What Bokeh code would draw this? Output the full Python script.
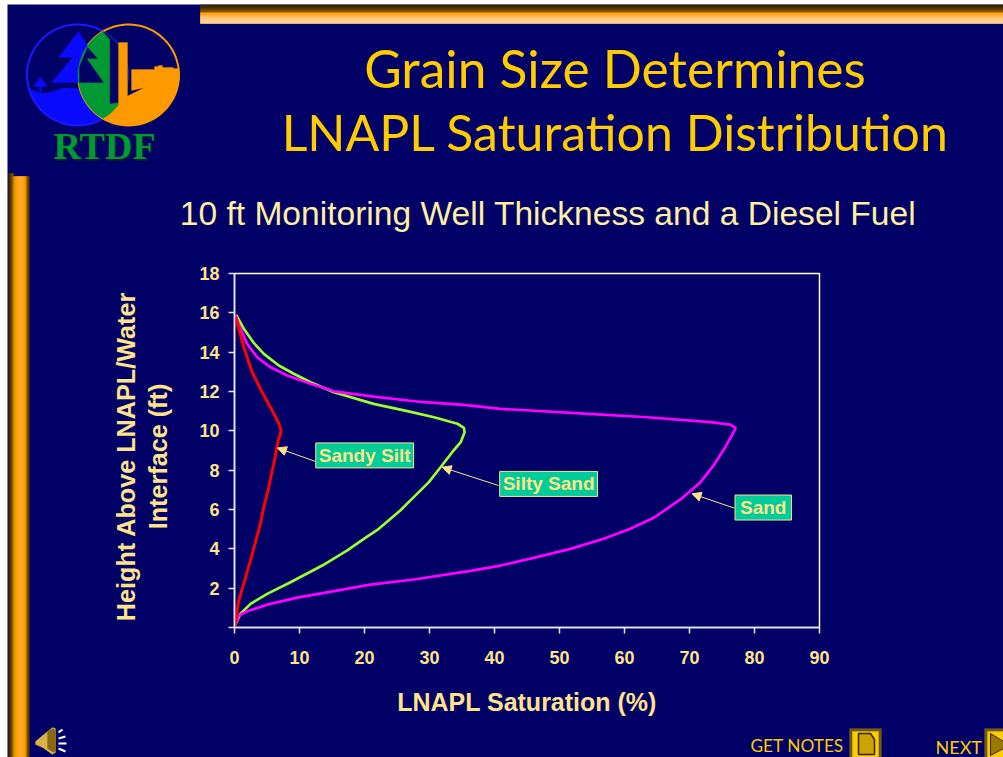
import math
import numpy as np
from bokeh.plotting import figure
from bokeh.embed import file_html
from bokeh.resources import INLINE
from bokeh.layouts import column
from bokeh.core.properties import value
from bokeh.models import (Label, Arrow, NormalHead, Range1d, FixedTicker)

# ---- data ----
title_lines = ["Grain Size Determines", "LNAPL Saturation Distribution"]
subtitle = "10 ft Monitoring Well Thickness and a Diesel Fuel"
x_title = "LNAPL Saturation (%)"
y_title_lines = ["Height Above LNAPL/Water", "Interface (ft)"]
x_ticks = [0, 10, 20, 30, 40, 50, 60, 70, 80, 90]
y_ticks = [0, 2, 4, 6, 8, 10, 12, 14, 16, 18]

silty_x = [0.05, 0.92, 2.46, 5.03, 8.62, 13.5, 17.3, 19.9, 22.2, 25.5, 27.3, 29.9, 31.7, 33.7, 34.8, 35.4, 35.3, 34.3, 30.7, 26.6, 21.4, 15.3, 11.7, 9.12, 6.82, 4.51, 2.97, 1.43, 0.26]
silty_y = [0.1, 0.70, 1.20, 1.71, 2.30, 3.15, 3.91, 4.51, 5.02, 5.95, 6.54, 7.39, 8.15, 9.0, 9.42, 9.93, 10.15, 10.36, 10.69, 11.0, 11.37, 11.96, 12.47, 12.9, 13.32, 13.91, 14.47, 15.19, 15.9]
sand_x = [0.05, 0.66, 1.95, 5.03, 9.65, 15.3, 20.9, 27.6, 36.3, 40.9, 46.0, 51.7, 56.8, 60.9, 64.5, 68.6, 71.7, 73.7, 75.5, 76.8, 77.1, 76.3, 73.2, 63.5, 53.2, 40.9, 35.3, 28.1, 21.4, 15.3, 11.7, 8.11, 5.54, 3.49, 1.95, 0.92, 0.15]
sand_y = [0.1, 0.61, 0.83, 1.16, 1.52, 1.85, 2.18, 2.44, 2.88, 3.15, 3.54, 4.0, 4.51, 5.02, 5.58, 6.51, 7.39, 8.24, 9.17, 9.93, 10.15, 10.32, 10.44, 10.69, 10.89, 11.12, 11.32, 11.49, 11.74, 12.01, 12.39, 12.81, 13.23, 13.74, 14.42, 15.18, 15.86]
silt_x = [0.0, 0.66, 1.43, 2.46, 4.0, 4.5, 5.28, 5.8, 6.15, 6.72, 7.18, 6.82, 5.8, 4.26, 2.72, 1.43, 0.15]
silt_y = [0.0, 1.37, 2.24, 3.41, 5.29, 6.12, 7.13, 7.98, 8.49, 9.51, 9.98, 10.37, 11.03, 11.96, 12.98, 14.25, 15.81]

callout_names = ["Sandy Silt", "Silty Sand", "Sand"]
callout_x = [12.5, 40.8, 77.0]
callout_y = [8.75, 7.3, 6.1]
arrow_from = [(12.4, 8.45), (40.6, 7.22), (76.9, 6.07)]
arrow_to = [(6.6, 9.13), (31.95, 8.15), (70.4, 6.8)]

NAVY = "#000066"
PALE = "#FFE38A"
GOLD = "#FFCC00"
BLUE = "#0A0AFF"
ORANGE = "#FF9900"
GREEN = "#009933"
# ---- layout ----
W, H = 996, 753
OX, OY = 7, 4

# backdrop figure: its scales are page pixels
bg = figure(width=W, height=H, output_backend="svg", toolbar_location=None,
            x_range=Range1d(OX, OX + W), y_range=Range1d(OY + H, OY),
            x_axis_location=None, y_axis_location=None, min_border=0,
            background_fill_color=NAVY, border_fill_color=NAVY, outline_line_color=None,
            margin=(OY, 0, 0, OX), frame_align=False)
bg.grid.visible = False

# chart figure, transparent, on top of the backdrop
p = figure(width=W, height=H, output_backend="svg", toolbar_location=None,
           x_range=Range1d(0, 90), y_range=Range1d(0, 18),
           min_border_left=234 - OX, min_border_right=1003 - 819,
           min_border_top=273 - OY, min_border_bottom=757 - 627,
           background_fill_alpha=0, border_fill_alpha=0,
           margin=(-H, 0, 0, OX), frame_align=False)
p.grid.visible = False
p.outline_line_color = "#FFFFFF"
p.outline_line_width = 1.5

for ax, ticks in ((p.xaxis[0], x_ticks), (p.yaxis[0], y_ticks)):
    ax.ticker = FixedTicker(ticks=ticks)
    ax.axis_line_color = "#E8E8F0"
    ax.axis_line_width = 1.5
    ax.major_tick_line_color = "#E8E8F0"
    ax.major_tick_line_width = 1.5
    ax.major_tick_out = 6
    ax.major_tick_in = 0
    ax.minor_tick_line_color = None
    ax.major_label_text_color = PALE
    ax.major_label_text_font = "Liberation Sans"
    ax.major_label_text_font_style = "bold"
    ax.major_label_text_font_size = "18px"
p.xaxis[0].axis_label = x_title
p.xaxis[0].axis_label_text_color = PALE
p.xaxis[0].axis_label_text_font = "Liberation Sans"
p.xaxis[0].axis_label_text_font_style = "bold"
p.xaxis[0].axis_label_text_font_size = "25px"
p.yaxis[0].major_label_overrides = {0: ""}
p.yaxis[0].major_label_standoff = 9
p.xaxis[0].major_label_standoff = 17
p.xaxis[0].axis_label_standoff = 21
p.yaxis[0].major_label_orientation = "horizontal"

# ---- curves ----
p.line(silty_x, silty_y, line_color="#99FF33", line_width=2.7)
p.line(sand_x, sand_y, line_color="#FF00FF", line_width=2.7)
p.line(silt_x, silt_y, line_color="#FF0000", line_width=3)

for (x0, y0), (x1, y1) in zip(arrow_from, arrow_to):
    p.add_layout(Arrow(x_start=x0, y_start=y0, x_end=x1, y_end=y1, line_color=PALE, line_width=1,
                       end=NormalHead(size=9, fill_color=PALE, line_color=PALE)))
for name, x, y in zip(callout_names, callout_x, callout_y):
    p.add_layout(Label(x=x, y=y, text=name, text_color=PALE, text_font="Liberation Sans",
                       text_font_style="bold", text_font_size="19px", text_baseline="middle",
                       background_fill_color="#00CC99", border_line_color=PALE,
                       border_line_width=1, padding=(3, 2) if name != "Sand" else (5, 2)))

# ---- slide decoration on the backdrop ----
def poly(xs, ys, fill=None, line=None, lw=1):
    xs = [float(v) for v in xs]
    ys = [float(v) for v in ys]
    if fill:
        bg.patch(xs, ys, fill_color=fill, line_color=line or fill, line_width=lw if line else 0.3)
    else:
        bg.line(xs, ys, line_color=line, line_width=lw)

def rect(x0, y0, x1, y1, c):
    poly([x0, x1, x1, x0], [y0, y0, y1, y1], fill=c)

def text(x, y, s, font, size, color, align="left", style="normal", angle=0.0):
    bg.text([x], [y], text=[s], text_font=value(font), text_font_size=f"{size}px", text_color=color,
            text_align=align, text_baseline="middle", text_font_style=style, angle=angle)

def circ(cx, cy, r, a0=0, a1=360, n=90):
    t = np.radians(np.linspace(a0, a1, n))
    return cx + r * np.cos(t), cy + r * np.sin(t)

# top bar (strips overlap so that no navy shows between them)
top_cols = ["#3A2600", "#3A2600", "#3F2A00", "#4A3000", "#5A3A00", "#6E4800", "#7A5000", "#8A5800", ORANGE,
            "#FFA31A", "#FFAD33", "#FFB84D", "#FFBF60", "#FFC570", "#FFCB80", "#FFD08A", "#FFD090", "#FFD090", "#FFCC88"]
for i, c in enumerate(top_cols):
    rect(200, 4 + i, 1003, 6 + i if i < len(top_cols) - 1 else 5 + i, c)
# left bar
left_cols = ["#3A2600", "#4A3000", "#5F3E00", "#7A5000", "#A06A00", "#D08A00", "#F09400", ORANGE, "#FF9F0A", "#FFA414",
             "#FFA81C", "#FFAC22", "#FFAC22", "#FFA81C", "#FFA414", "#FF9F0A", ORANGE, "#E08800", "#A06A00", "#6A4600", "#402A00"]
for i, c in enumerate(left_cols):
    rect(8 + i, 173 + (0 if i < 4 else 3), 10 + i if i < len(left_cols) - 1 else 9 + i, 757, c)

# logo
cb, co, cy, r = 77.0, 128.0, 74.5, 50.5
t = np.linspace(-1, 1, 60)
lens_y = cy + t * np.sqrt(r * r - ((co - cb) / 2) ** 2)
lens_l = co - np.sqrt(r * r - (lens_y - cy) ** 2)
lens_r = cb + np.sqrt(r * r - (lens_y - cy) ** 2)
wx = [30, 36, 43, 52, 63, 78, 92, 100]
wy = [89, 91, 93, 91, 87.5, 88, 91, 91]
ax_, ay_ = circ(cb, cy, r, 50, 165, 40)
poly(wx + list(ax_), wy + list(ay_), fill=BLUE)
bx, by = circ(cb, cy, r)
poly(bx, by, line="#1A1AFF", lw=2)
ox, oy = circ(co, cy, r)
poly(ox, oy, line=ORANGE, lw=2)
poly([40, 33, 47], [76.5, 86, 86], fill=BLUE)
rect(39, 86, 41, 91, BLUE)
poly([78, 58, 72, 51, 103, 87, 97, 87], [31, 57, 57, 82, 82, 57, 57, 45], fill=BLUE)
oa, ob = circ(co, cy, r, -5, 130, 60)
poly([112] + list(oa), [103] + list(ob), fill=ORANGE)
poly([131, 154, 154, 158, 158, 162, 162, 173, 173, 178, 178, 131],
     [69, 69, 66, 66, 65, 65, 67, 67, 68, 68, 80, 90], fill=ORANGE)
poly(list(lens_l) + list(lens_r[::-1]), list(lens_y) + list(lens_y[::-1]), fill=GREEN)
up = lens_y < 103
poly([109.5, 109.5] + list(lens_r[up]), [103, float(lens_y[up][0]) + 8] + list(lens_y[up]), fill=NAVY)
rect(118, 42, 127, 103, ORANGE)
poly([87, 97, 86, 103, 79, 79], [47, 58, 58, 82, 82, 66], fill=NAVY)
text(54.5, 147, "RTDF", "Liberation Serif", 38, "#001A33", style="bold")
text(53, 145, "RTDF", "Liberation Serif", 38, GREEN, style="bold")

# titles
text(614.5, 67, title_lines[0], "Lato", 51.5, GOLD, "center")
text(615, 131, title_lines[1], "Lato", 50, GOLD, "center")
text(547.5, 213, subtitle, "Liberation Sans", 33.6, "#FFEFA0", "center")
# y-axis title
text(125, 456, y_title_lines[0], "Liberation Sans", 25.2, PALE, "center", "bold", math.pi / 2)
text(157, 456, y_title_lines[1], "Liberation Sans", 25.2, PALE, "center", "bold", math.pi / 2)

# bottom buttons
text(750, 745, "GET NOTES", "Lato", 17.3, GOLD)
text(935, 746, "NEXT", "Lato", 18, GOLD)
rect(849, 728, 881, 757, "#6E5A1E")
rect(852, 731, 878, 757, GOLD)
poly([858, 870, 874, 874, 858], [733, 733, 739, 754, 754], fill="#CCA300", line="#332200", lw=1.5)
rect(984, 728, 1003, 757, "#6E5A1E")
rect(987, 731, 1003, 757, GOLD)
poly([990, 1003, 1003, 990], [733, 741, 748, 755], fill="#997A00", line="#332200", lw=1)
# speaker
poly([35, 42, 52, 55, 55, 52, 42, 35], [741, 735, 727, 728, 752, 754, 747, 744], fill="#D9B347")
poly([47, 53, 55, 55, 53, 47], [731, 728, 730, 750, 752, 748], fill="#8A6A10")
for x0, y0, x1, y1 in [(58, 732, 62, 729), (58, 738, 65, 736), (58, 743, 66, 743), (58, 748, 65, 751)]:
    poly([x0, x1], [y0, y1], line="#FFFFFF", lw=2)

open("out.html", "w").write(file_html(column(bg, p, margin=0, spacing=0), INLINE))
